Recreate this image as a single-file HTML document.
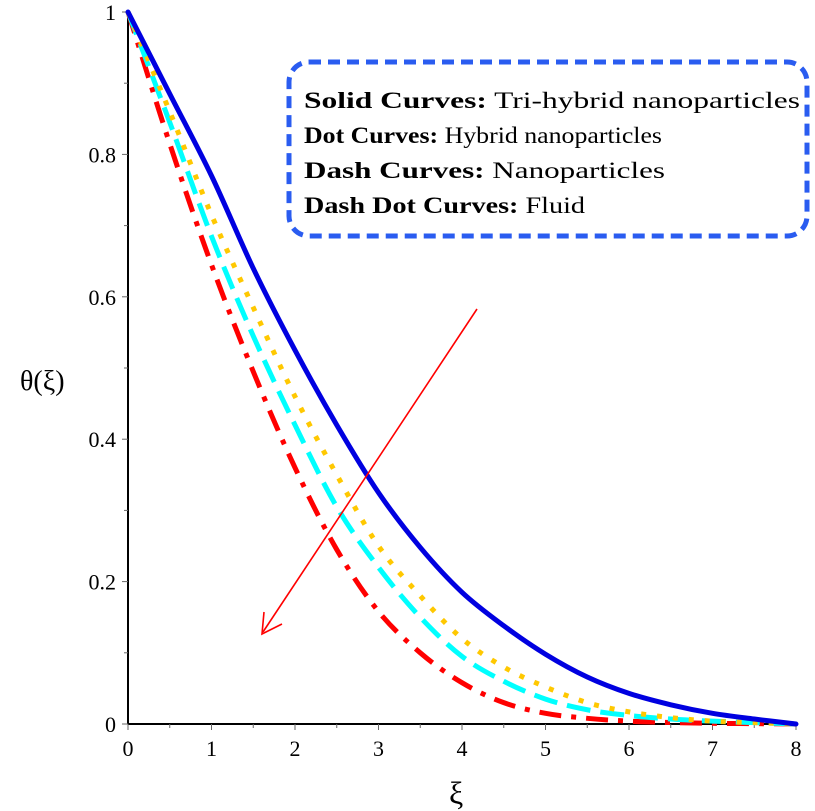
<!DOCTYPE html>
<html><head><meta charset="utf-8"><style>
body{margin:0;background:#fff}
svg{display:block;font-family:"Liberation Serif",serif}
</style></head><body>
<svg id="chart" width="815" height="811">
<g id="axes"></g>
<g id="curves"></g>
<g stroke="#f00" stroke-width="1.6" fill="none">
<line x1="477" y1="309" x2="263" y2="632"/>
<polyline points="264,612 262,634 282,624"/>
</g>
<g>
<rect x="289" y="62" width="518" height="174" rx="20" fill="#fff" stroke="#2a5cf0" stroke-width="5" stroke-dasharray="12,7"/>
<text x="304" y="108" font-size="23" textLength="496" lengthAdjust="spacingAndGlyphs"><tspan font-weight="bold">Solid Curves:</tspan> Tri-hybrid nanoparticles</text>
<text x="304" y="143" font-size="23" textLength="358" lengthAdjust="spacingAndGlyphs"><tspan font-weight="bold">Dot Curves:</tspan> Hybrid nanoparticles</text>
<text x="304" y="178" font-size="23" textLength="361" lengthAdjust="spacingAndGlyphs"><tspan font-weight="bold">Dash Curves:</tspan> Nanoparticles</text>
<text x="304" y="213" font-size="23" textLength="281" lengthAdjust="spacingAndGlyphs"><tspan font-weight="bold">Dash Dot Curves:</tspan> Fluid</text>
</g>
<text x="20" y="390" font-size="28">θ(ξ)</text>
<text x="449" y="804" font-size="32">ξ</text>
</svg>
<script>
const xValues=[0,0.5,1,1.5,2,2.5,3,3.5,4,4.5,5,5.5,6,6.5,7,7.5,8];
const triHybrid=[1,0.885,0.77,0.64,0.525,0.42,0.325,0.248,0.185,0.138,0.098,0.066,0.043,0.027,0.015,0.007,0];
const hybrid=[1,0.86,0.715,0.585,0.46,0.35,0.25,0.18,0.12,0.08,0.052,0.03,0.017,0.009,0.004,0.002,0];
const nano=[1,0.845,0.685,0.545,0.42,0.305,0.22,0.15,0.095,0.06,0.035,0.02,0.012,0.007,0.004,0.002,0];
const fluid=[1,0.815,0.645,0.495,0.36,0.245,0.158,0.10,0.058,0.03,0.015,0.008,0.004,0.002,0.001,0.0005,0];
const xTicks=[0,1,2,3,4,5,6,7,8];
const yTicks=[0,0.2,0.4,0.6,0.8,1];
const yTickLabels=["0","0.2","0.4","0.6","0.8","1"];
const NS="http://www.w3.org/2000/svg";
const X0=128,X1=796,Y0=724,Y1=12;
const sx=v=>X0+(v-0)/(8-0)*(X1-X0);
const sy=v=>Y0-(v-0)/(1-0)*(Y0-Y1);
function mk(tag,attrs,parent){const e=document.createElementNS(NS,tag);for(const k in attrs)e.setAttribute(k,attrs[k]);parent.appendChild(e);return e;}
const axes=document.getElementById('axes');
const curves=document.getElementById('curves');
function path(ys){
  const p=xValues.map((x,i)=>[sx(x),sy(ys[i])]);
  let d="M"+p[0][0]+","+p[0][1];
  for(let i=0;i<p.length-1;i++){
    const a=p[Math.max(i-1,0)],b=p[i],c=p[i+1],e=p[Math.min(i+2,p.length-1)];
    d+=" C"+(b[0]+(c[0]-a[0])/6)+","+(b[1]+(c[1]-a[1])/6)+" "+(c[0]-(e[0]-b[0])/6)+","+(c[1]-(e[1]-b[1])/6)+" "+c[0]+","+c[1];
  }
  return d;
}
const series=[
 {ys:fluid,color:"#ff0000",dash:"22,10,5,10",name:"fluid-curve",cap:"butt"},
 {ys:nano,color:"#00ffff",dash:"24,10",name:"nanoparticles-curve",cap:"butt"},
 {ys:hybrid,color:"#ffc800",dash:"5,11",name:"hybrid-curve",cap:"butt"},
 {ys:triHybrid,color:"#0000e0",dash:"none",name:"tri-hybrid-curve",cap:"round"}
];
series.forEach(s=>{
  const el=mk('path',{d:path(s.ys),fill:"none",stroke:s.color,"stroke-width":5,"stroke-dasharray":s.dash,"stroke-linecap":s.cap},curves);
  
  
});
const xa=mk('line',{x1:X0,y1:Y0,x2:X1,y2:Y0,stroke:"#000","stroke-width":2},axes);


const ya=mk('line',{x1:X0,y1:Y0,x2:X0,y2:Y1,stroke:"#000","stroke-width":2},axes);


for(let v=0;v<=8.001;v+=0.5){mk('line',{x1:sx(v),y1:Y0,x2:sx(v),y2:Y0+(v%1===0?6:4),stroke:"#666","stroke-width":1},axes);}
for(let v=0;v<=1.001;v+=0.1){mk('line',{x1:X0,y1:sy(v),x2:X0-(Math.round(v*10)%2===0?6:4),y2:sy(v),stroke:"#666","stroke-width":1},axes);}
xTicks.forEach(v=>{
  const t=mk('text',{x:sx(v),y:Y0+32,"font-size":22,"text-anchor":"middle"},axes);
  t.textContent=String(v);
  
  
});
yTicks.forEach((v,i)=>{
  const t=mk('text',{x:X0-12,y:sy(v)+8,"font-size":22,"text-anchor":"end"},axes);
  t.textContent=yTickLabels[i];
  
  
});
</script>
</body></html>
